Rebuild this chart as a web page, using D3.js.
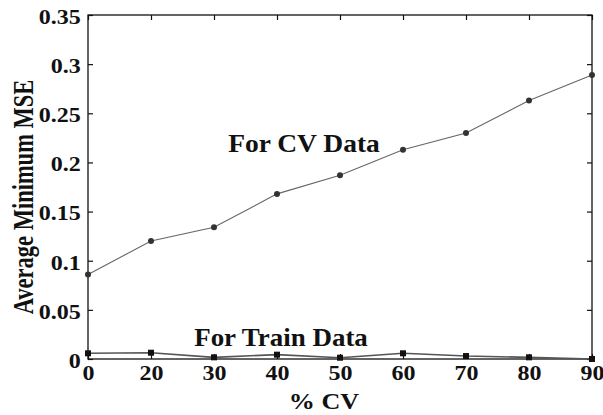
<!DOCTYPE html>
<html>
<head>
<meta charset="utf-8">
<script src="https://cdn.jsdelivr.net/npm/d3@7"></script>
<style>
  html, body { margin: 0; padding: 0; background: #fff; }
</style>
</head>
<body>
<svg id="chart" width="603" height="415"></svg>
<script>
// % of data held out for cross-validation
const cvPercent = ["0", "20", "30", "40", "50", "60", "70", "80", "90"];
// average minimum MSE on the CV set
const cvMSE = [0.086, 0.120, 0.134, 0.168, 0.187, 0.213, 0.230, 0.263, 0.289];
// average minimum MSE on the training set
const trainMSE = [0.0058, 0.0064, 0.0017, 0.0044, 0.0013, 0.0058, 0.0030, 0.0017, 0.0000];
const yTicks = [0, 0.05, 0.1, 0.15, 0.2, 0.25, 0.3, 0.35];

const FONT = "'Liberation Serif', 'Times New Roman', serif";
const svg = d3.select("#chart");
const plotL = 88, plotR = 592, plotT = 15, plotB = 359;

const x = d3.scalePoint().domain(cvPercent).range([plotL, plotR]);
const y = d3.scaleLinear().domain([0, 0.35]).range([plotB, plotT]);

// frame
svg.append("rect")
  .attr("x", plotL).attr("y", plotT)
  .attr("width", plotR - plotL).attr("height", plotB - plotT)
  .attr("fill", "none").attr("stroke", "#111").attr("stroke-width", 1.3);

// inward ticks on all four sides
const tl = 5;
const yAxisL = d3.axisLeft(y).tickValues(yTicks).tickSizeInner(-tl).tickSizeOuter(0)
  .tickPadding(6).tickFormat(d => d === 0 ? "0" : String(+d.toFixed(2)));
const gL = svg.append("g").attr("transform", `translate(${plotL},0)`).call(yAxisL);
const yAxisR = d3.axisRight(y).tickValues(yTicks).tickSizeInner(-tl).tickSizeOuter(0).tickFormat("");
const gR = svg.append("g").attr("transform", `translate(${plotR},0)`).call(yAxisR);
const xAxisB = d3.axisBottom(x).tickSizeInner(-tl).tickSizeOuter(0).tickPadding(7);
const gB = svg.append("g").attr("transform", `translate(0,${plotB})`).call(xAxisB);
const xAxisT = d3.axisTop(x).tickSizeInner(-tl).tickSizeOuter(0).tickFormat("");
const gT = svg.append("g").attr("transform", `translate(0,${plotT})`).call(xAxisT);

[gL, gR, gB, gT].forEach(g => {
  g.attr("font-family", null).attr("font-size", null);
  g.select(".domain").remove();
  g.selectAll(".tick line").attr("stroke", "#111").attr("stroke-width", 1.2);
  g.selectAll("text")
    .style("font-family", FONT).style("font-weight", "bold").style("font-size", "20px")
    .attr("fill", "#111");
});
gL.selectAll("text").attr("dy", "0.42em")
  .attr("transform", "scale(1.2,1)");
gB.selectAll("text").attr("transform", "scale(1.2,1)");

// CV curve
svg.append("path")
  .datum(cvMSE)
  .attr("fill", "none").attr("stroke", "#666").attr("stroke-width", 1.1)
  .attr("d", d3.line().x((d, i) => x(cvPercent[i])).y(d => y(d)));
svg.selectAll(".cvpt").data(cvMSE).join("circle")
  .attr("class", "cvpt")
  .attr("cx", (d, i) => x(cvPercent[i])).attr("cy", d => y(d))
  .attr("r", 3).attr("fill", "#333");

// training curve
svg.append("path")
  .datum(trainMSE)
  .attr("fill", "none").attr("stroke", "#555").attr("stroke-width", 1.6)
  .attr("d", d3.line().x((d, i) => x(cvPercent[i])).y(d => y(d)));
svg.selectAll(".trpt").data(trainMSE).join("rect")
  .attr("class", "trpt")
  .attr("x", (d, i) => x(cvPercent[i]) - 3).attr("y", d => y(d) - 3)
  .attr("width", 6).attr("height", 6).attr("fill", "#111");

function label(tx, ty, txt, size, sx, sy, rot) {
  return svg.append("text")
    .attr("transform", `translate(${tx},${ty})` + (rot ? ` rotate(${rot})` : "") + ` scale(${sx},${sy})`)
    .attr("text-anchor", "middle")
    .style("font-family", FONT).style("font-weight", "bold").style("font-size", size + "px")
    .attr("fill", "#111")
    .text(txt);
}

// annotations
label(304, 152, "For CV Data", 25, 1.1, 1);
label(281, 346, "For Train Data", 24.5, 1.1, 1);

// axis titles
label(324, 409, "% CV", 22.5, 1.16, 1);
label(33, 197, "Average Minimum MSE", 22.5, 1, 1.35, -90);
</script>
</body>
</html>
